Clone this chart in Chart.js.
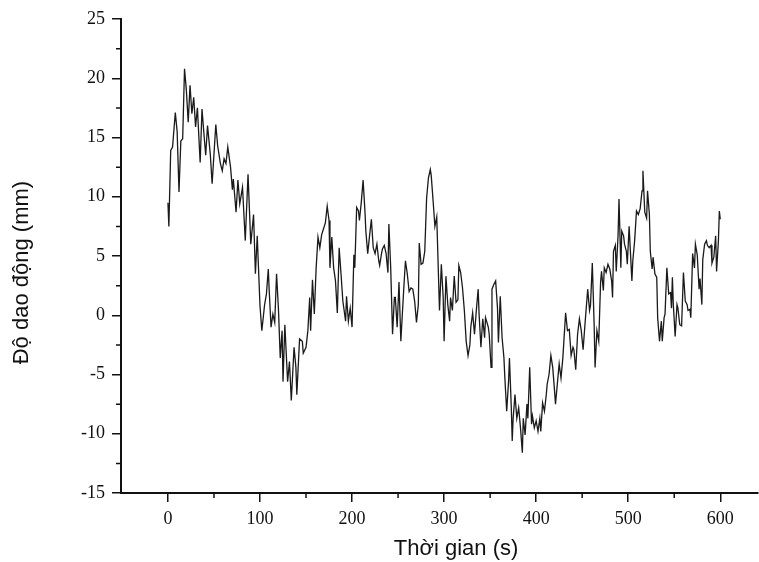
<!DOCTYPE html>
<html>
<head>
<meta charset="utf-8">
<script src="https://cdn.jsdelivr.net/npm/chart.js@4.4.0/dist/chart.umd.min.js"></script>
<style>
  html, body { margin: 0; padding: 0; background: #fff; }
  #wrap { width: 759px; height: 562px; }
</style>
</head>
<body>
<div id="wrap"><canvas id="myChart" width="759" height="562"></canvas></div>
<script>
// time (s) and displacement (mm)
const times = [0,1,3,5,8,10,12,14,16,18,20,22,24,26,28,30,32,35,37,39,41,43,46,48,52,54,57,59,61,63,65,68,70,71,74,76,78,81,84,87,90,93,95,97,100,102,105,107,109,110,112,114,116,118,120,122,124,125,127,130,132,134,137,139,140,143,146,147,150,152,154,155,157,159,161,163,165,167,169,171,173,175,176,178,180,182,184,186,188,190,193,194,196,198,200,202,203,205,207,208,210,212,214,215,217,219,221,223,225,227,229,230,232,233,235,237,239,240,242,244,246,247,249,251,253,256,258,260,262,264,266,268,270,272,273,275,277,279,281,283,285,286,288,290,292,293,295,297,299,300,302,304,306,307,309,311,313,315,316,318,320,322,324,326,328,329,331,333,335,337,338,340,342,344,345,348,349,351,352,354,356,358,359,361,363,365,366,368,370,371,373,374,375,377,379,381,383,385,386,388,390,391,393,395,396,398,400,402,404,405,407,409,411,412,414,416,418,420,421,423,425,427,429,432,434,436,438,440,441,443,445,447,449,451,453,454,456,458,459,461,463,464,466,468,470,471,473,474,476,478,480,482,483,484,486,487,489,490,492,493,495,496,498,499,501,504,505,507,509,511,513,515,516,518,520,521,523,524,526,527,529,531,532,534,536,537,539,540,542,544,546,547,548,549,551,553,554,556,558,560,562,564,565,567,568,570,572,573,575,577,578,580,581,583,585,586,588,590,591,593,595,596,598,599,600];
const values = [9.5,7.5,13.9,14.2,17.1,15.5,10.4,14.7,14.9,20.8,19,16.3,19.4,17,18.4,15.9,17.5,12.9,17.4,15.4,13.5,16,13.6,11.1,16.1,14.3,12.8,12.2,13.2,12.8,14.2,12.5,10.6,11.5,8.7,11.4,9.4,10.8,6.3,11.9,6.0,8.5,3.5,6.7,0.8,-1.3,0.9,1.8,3.9,2.1,-1.0,0.1,-0.6,3.5,0.6,-3.6,-1.3,-5.6,-0.8,-5.6,-3.9,-7.2,-2.7,-4.4,-6.7,-2.0,-2.2,-3.2,-2.7,-1.3,1.5,-1.3,3.0,0.1,4.0,6.6,5.7,6.8,7.3,7.8,9.2,8.0,4.0,6.6,4.0,2.9,0.2,5.7,3.5,1.2,-0.5,1.6,-0.5,0.6,-1.0,5.1,4.0,9.1,8.8,8.0,9.5,11.4,8.8,7.1,5.2,6.7,8.1,5.7,5.2,6.0,4.6,4.2,5.2,5.6,5.9,5.2,3.6,7.7,4.0,-1.6,1.5,1.5,-1.0,2.8,-2.2,2.0,4.6,3.5,2.0,2.3,2.2,1.2,-0.6,0.9,6.1,4.3,4.4,5.4,9.9,11.6,12.3,11.8,9.7,7.5,8.3,5.7,0.4,4.3,1.5,-2.2,3.3,0.9,-0.5,1.5,0.4,3.3,1.1,1.3,4.2,3.6,2.3,0.4,-2.2,-3.4,-2.5,-1.0,0.2,-1.6,0.4,2.2,0.1,-2.7,-0.3,-1.9,-0.2,-1.0,-1.6,-4.4,2.2,2.6,2.9,0.6,-2.3,1.6,-1.9,-3.6,-5.3,-8.1,-5.6,-3.6,-7.8,-10.6,-8.7,-6.7,-8.7,-7.8,-9.5,-11.6,-8.7,-10.1,-7.5,-8.7,-4.4,-9.2,-8.5,-9.5,-8.9,-9.8,-8.7,-9.8,-7.4,-8.1,-6.7,-5.8,-5.0,-3.4,-4.4,-6.4,-7.5,-5.8,-4.1,-5.3,-3.6,0.2,-1.3,-1.2,-3.4,-2.7,-2.9,-4.6,-1.6,-0.3,-1.3,-2.9,-0.8,0.2,2.2,0.4,0.8,4.4,-0.8,-4.4,-1.3,-2.2,2.8,3.7,2.1,4.0,3.6,4.3,3.9,2.9,1.5,5.4,5.9,3.7,6.8,9.8,4.0,7.1,6.7,6.0,5.4,4.3,7.5,2.9,4.6,6.3,8.8,8.5,9.0,10.5,12.2,8.7,8.2,10.5,8.5,5.4,3.9,4.9,3.5,3.2,-0.2,-2.2,-0.5,-2.2,-0.2,0.1,4.0,1.8,1.9,0.6,3.2,0.9,-1.8,0.9,0.6,-0.8,-0.9,3.6,1.2,0.9,0.4,0.5,-0.2,5.2,4.0,6.0,5.1,2.2,3.1,0.9,4.7,6.0,6.3,5.9,5.7,5.9,4.4,4.9,6.7,3.7,6.3,8.8,8.1];

const xTicks = [0, 100, 200, 300, 400, 500, 600];
const xMinor = [50, 150, 250, 350, 450, 550];
const yMinor = [-12.5, -7.5, -2.5, 2.5, 7.5, 12.5, 17.5, 22.5];
const xTitle = 'Thời gian (s)';
const yTitle = 'Độ dao động (mm)';

// short minor ticks and the two axis titles
const extras = {
  id: 'extras',
  afterDraw(chart) {
    const ctx = chart.ctx;
    const xs = chart.scales.x, ys = chart.scales.y;
    const a = chart.chartArea;
    ctx.save();
    ctx.strokeStyle = '#111';
    ctx.lineWidth = 1.5;
    ctx.beginPath();
    xMinor.forEach(v => {
      const px = xs.getPixelForValue(v);
      ctx.moveTo(px, a.bottom);
      ctx.lineTo(px, a.bottom + 5);
    });
    yMinor.forEach(v => {
      const py = ys.getPixelForValue(v);
      ctx.moveTo(a.left, py);
      ctx.lineTo(a.left - 5, py);
    });
    ctx.stroke();

    ctx.fillStyle = '#111';
    ctx.font = '22px "Liberation Sans"';
    ctx.textAlign = 'center';
    ctx.textBaseline = 'middle';
    ctx.fillText(xTitle, xs.getPixelForValue(313), 549);
    ctx.translate(22, ys.getPixelForValue(3.6));
    ctx.rotate(-Math.PI / 2);
    ctx.fillText(yTitle, 0, 0);
    ctx.restore();
  }
};

const tickFont = { family: 'Liberation Serif', size: 18 };

new Chart(document.getElementById('myChart'), {
  type: 'line',
  data: {
    datasets: [{
      data: times.map((t, i) => ({ x: t, y: values[i] })),
      borderColor: '#1a1a1a',
      borderWidth: 1.3,
      pointRadius: 0,
      tension: 0,
      fill: false
    }]
  },
  options: {
    responsive: false,
    animation: false,
    layout: { padding: { top: 19, right: 1, left: 0, bottom: 0 } },
    plugins: { legend: { display: false }, tooltip: { enabled: false } },
    scales: {
      x: {
        type: 'linear',
        min: -51,
        max: 641,
        afterBuildTicks: s => { s.ticks = xTicks.map(v => ({ value: v })); },
        afterFit: s => { s.height = 69; },
        grid: { drawOnChartArea: false, drawTicks: true, tickLength: 9, color: '#111', lineWidth: 1.5 },
        border: { display: true, color: '#111', width: 2 },
        ticks: { font: tickFont, color: '#111', padding: 6, maxRotation: 0 }
      },
      y: {
        min: -15,
        max: 25,
        afterFit: s => { s.width = 121; },
        grid: { drawOnChartArea: false, drawTicks: true, tickLength: 9, color: '#111', lineWidth: 1.5 },
        border: { display: true, color: '#111', width: 2 },
        ticks: { stepSize: 5, font: tickFont, color: '#111', padding: 7 }
      }
    }
  },
  plugins: [extras]
});
</script>
</body>
</html>
